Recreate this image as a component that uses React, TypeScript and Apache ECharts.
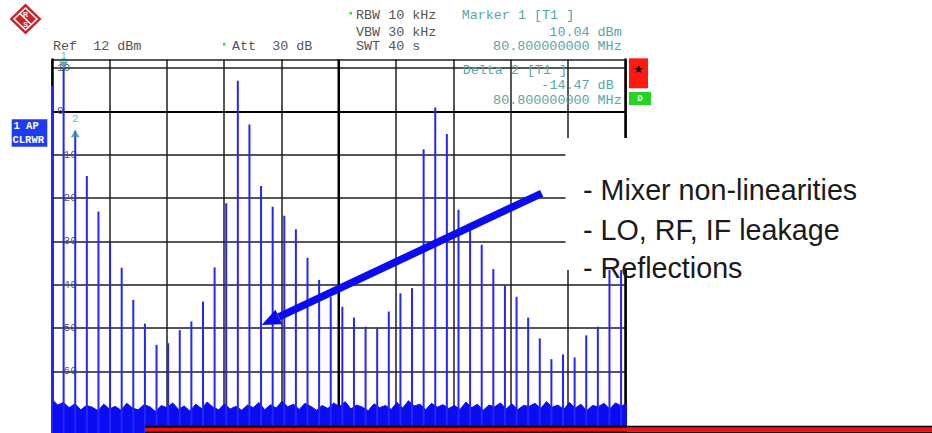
import React, { useEffect, useRef } from "react";
import * as echarts from "echarts";

// Harmonic comb: frequencies (MHz) and measured levels (dBm)
const SPIKE_FREQ_MHZ = [
  0, 80.8, 161.6, 242.4, 323.2, 404, 484.8, 565.6, 646.4, 727.2,
  808, 888.8, 969.6, 1050.4, 1131.2, 1212, 1292.8, 1373.6, 1454.4, 1535.2,
  1616, 1696.8, 1777.6, 1858.4, 1939.2, 2020, 2100.8, 2181.6, 2262.4, 2343.2,
  2424, 2504.8, 2585.6, 2666.4, 2747.2, 2828, 2908.8, 2989.6, 3070.4, 3151.2,
  3232, 3312.8, 3393.6, 3474.4, 3555.2, 3636, 3716.8, 3797.6, 3878.4, 3959.2,
];
const SPIKE_LEVEL_DBM = [
  6.0, 10.04, -4.43, -14.9, -23.1, -30.4, -36.1, -43.5, -49.0, -53.9,
  -53.5, -50.5, -48.5, -43.9, -36.0, -21.2, 7.1, -3.0, -17.2, -22.0,
  -24.1, -27.2, -33.8, -38.9, -42.9, -45.1, -47.6, -49.7, -50.1, -46.2,
  -42.0, -40.8, -8.7, 0.9, -5.2, -22.7, -27.5, -30.8, -36.4, -40.1,
  -42.8, -47.6, -52.4, -57.2, -56.1, -56.8, -51.7, -49.7, -30.0, -24.0,
];

// Noise floor trace, one sample every 40 MHz
const NOISE_STEP_MHZ = 40;
const NOISE_DBM = [
  -66.5, -67.8, -67.2, -68.4, -67.5, -68.9, -67.9, -68.3, -69.1, -67.6,
  -68.7, -68.1, -69.0, -67.4, -68.5, -68.9, -67.7, -68.2, -69.3, -67.9,
  -68.4, -67.3, -68.8, -68.0, -69.2, -67.6, -68.6, -67.1, -68.3, -68.9,
  -67.5, -68.7, -68.1, -69.0, -67.8, -68.4, -67.2, -68.9, -67.7, -68.5,
  -66.9, -68.2, -67.6, -68.8, -67.4, -68.1, -69.0, -67.9, -68.6, -67.3,
  -68.2, -67.0, -68.7, -67.8, -68.3, -69.1, -67.5, -68.4, -67.9, -68.8,
  -67.2, -68.5, -66.8, -68.0, -67.6, -68.9, -67.4, -68.3, -67.7, -68.6,
  -67.9, -68.8, -67.1, -68.4, -67.6, -69.0, -67.8, -68.2, -67.3, -68.7,
  -67.5, -68.9, -67.9, -68.1, -67.4, -68.6, -67.0, -68.3, -67.8, -68.8,
  -67.2, -68.5, -67.6, -69.1, -67.9, -68.2, -67.4, -68.7, -67.3, -68.0,
  -67.5,
];

// Markers: [freq MHz, level dBm]
const MARKER_1 = [80.8, 10.04];
const MARKER_2 = [161.6, 10.04 - 14.47];

const SPAN_MHZ = 3990;
const REF_LEVEL = 12;
const FLOOR_LEVEL = -90;

const MONO = '"Liberation Mono", "DejaVu Sans Mono", monospace';
const GRAY_TXT = "#555555";
const TEAL = "#52a8a8";
const GRID = "#1e1e1e";

function headerText(text: string, x: number, y: number, fill: string, align = "left") {
  return {
    type: "text",
    z: 120,
    style: { text, x, y, fill, fontFamily: MONO, fontSize: 13.4, align, verticalAlign: "middle" },
  };
}

export default function App() {
  const ref = useRef<HTMLDivElement>(null);

  useEffect(() => {
    if (!ref.current) return;
    const chart = echarts.init(ref.current, null, { renderer: "svg" });

    const spikes = SPIKE_FREQ_MHZ.map((f, i) => [f, SPIKE_LEVEL_DBM[i]]);
    const noise = NOISE_DBM.map((v, i) => [i * NOISE_STEP_MHZ, v]);

    // arrow geometry (annotation)
    const tip = [261.7, 325];
    const tail = [541.7, 193.3];
    const dx = tip[0] - tail[0];
    const dy = tip[1] - tail[1];
    const len = Math.hypot(dx, dy);
    const ux = dx / len, uy = dy / len;
    const headLen = 19, headHalf = 8;
    const bx = tip[0] - ux * headLen, by = tip[1] - uy * headLen;
    const nx = -uy, ny = ux;

    chart.setOption({
      animation: false,
      backgroundColor: "#ffffff",
      // the screen extends below the visible area: 4.33 px per dB from ref level down to -90 dBm
      grid: {
        left: 52, top: 59.5, width: 573.5, height: 441.7,
        containLabel: false, outerBoundsMode: "none",
      },
      xAxis: [
        {
          type: "value", min: 0, max: 10, interval: 1, position: "top",
          axisLine: { show: true, lineStyle: { color: "#000", width: 2 } },
          axisTick: { show: false }, axisLabel: { show: false },
          splitLine: { show: true, lineStyle: { color: GRID, width: 1.5 } },
        },
        { type: "value", min: 0, max: SPAN_MHZ, position: "bottom", show: false },
      ],
      yAxis: [
        {
          type: "value", min: FLOOR_LEVEL, max: REF_LEVEL, interval: 10, position: "left",
          axisLine: { show: true, lineStyle: { color: "#000", width: 2.5 } },
          axisTick: { show: false },
          axisLabel: {
            inside: true, margin: 5, color: "#5a5a5a", fontFamily: MONO, fontSize: 11,
            formatter: (v: number) => (v <= 10 && v >= -60 ? String(v) : ""),
          },
          splitLine: { show: true, lineStyle: { color: GRID, width: 1.5 } },
        },
        {
          type: "value", min: FLOOR_LEVEL, max: REF_LEVEL, position: "right",
          axisLine: { show: true, onZero: false, lineStyle: { color: "#000", width: 2.5 } },
          axisTick: { show: false }, axisLabel: { show: false }, splitLine: { show: false },
        },
      ],
      series: [
        {
          // centre graticule line
          type: "line", xAxisIndex: 1, yAxisIndex: 0, z: 1, symbol: "none", silent: true,
          data: [[SPAN_MHZ / 2, FLOOR_LEVEL], [SPAN_MHZ / 2, REF_LEVEL]],
          lineStyle: { color: "#000", width: 2.5 },
        },
        {
          type: "line", xAxisIndex: 1, yAxisIndex: 0, z: 3, symbol: "none", silent: true,
          data: noise,
          lineStyle: { color: "#0c0cf2", width: 1 },
          areaStyle: { color: "#0c0cf2", opacity: 1, origin: "start" },
        },
        {
          type: "custom", xAxisIndex: 1, yAxisIndex: 0, z: 4, silent: true,
          data: spikes,
          encode: { x: 0, y: 1 },
          renderItem: (params: any, api: any) => {
            const f = api.value(0);
            const v = api.value(1);
            const top = api.coord([f, v]);
            const bot = api.coord([f, FLOOR_LEVEL]);
            return {
              type: "line",
              shape: { x1: top[0], y1: top[1], x2: bot[0], y2: bot[1] },
              style: { stroke: "#2525ff", lineWidth: 2 },
            };
          },
        },
        {
          type: "scatter", xAxisIndex: 1, yAxisIndex: 0, z: 6, silent: true,
          data: [MARKER_1],
          symbol: "triangle", symbolRotate: 180, symbolSize: [9, 7], symbolOffset: [0, -3],
          itemStyle: { color: "#2f9a9a" },
          label: { show: true, formatter: "1", position: "top", distance: 0, color: TEAL, fontFamily: MONO, fontSize: 11 },
        },
        {
          type: "scatter", xAxisIndex: 1, yAxisIndex: 0, z: 6, silent: true,
          data: [MARKER_2],
          symbol: "triangle", symbolSize: [9, 7], symbolOffset: [0, 3],
          itemStyle: { color: "#2f9a9a" },
          label: { show: true, formatter: "2", position: "top", distance: 6, color: TEAL, fontFamily: MONO, fontSize: 11 },
        },
      ],
      graphic: [
        // logo
        { type: "polygon", z: 120, shape: { points: [[25.5, 3.5], [41.5, 19], [25.5, 34.5], [9.5, 19]] }, style: { fill: "#cc222b" } },
        { type: "polygon", z: 121, shape: { points: [[25.5, 8], [37, 19], [25.5, 30], [14, 19]] }, style: { fill: "none", stroke: "#fff", lineWidth: 1.5 } },
        { type: "line", z: 121, shape: { x1: 19.8, y1: 13.5, x2: 31.2, y2: 24.5 }, style: { stroke: "#fff", lineWidth: 1.5 } },
        { type: "text", z: 122, style: { text: "R", x: 25.5, y: 14.5, fill: "#fff", fontSize: 7, fontWeight: "bold", fontFamily: "Liberation Sans", align: "center", verticalAlign: "middle" } },
        { type: "text", z: 122, style: { text: "S", x: 25.5, y: 24, fill: "#fff", fontSize: 7, fontWeight: "bold", fontFamily: "Liberation Sans", align: "center", verticalAlign: "middle" } },

        // instrument header
        headerText("Ref  12 dBm", 53, 46, GRAY_TXT),
        { type: "rect", z: 120, shape: { x: 223, y: 43, width: 2.5, height: 2.5 }, style: { fill: "#33dd33" } },
        headerText("Att  30 dB", 232, 46, GRAY_TXT),
        { type: "rect", z: 120, shape: { x: 349.5, y: 12, width: 2.5, height: 2.5 }, style: { fill: "#33dd33" } },
        headerText("RBW 10 kHz", 356, 15.7, GRAY_TXT),
        headerText("VBW 30 kHz", 356, 32.3, GRAY_TXT),
        headerText("SWT 40 s", 356, 46.7, GRAY_TXT),
        headerText("Marker 1 [T1 ]", 461.7, 15.7, TEAL),
        headerText("10.04 dBm", 621.7, 32, TEAL, "right"),
        headerText("80.800000000 MHz", 621.7, 46.7, TEAL, "right"),
        headerText("Delta 2 [T1 ]", 462.7, 70, TEAL),
        headerText("-14.47 dB", 613.7, 85, TEAL, "right"),
        headerText("80.800000000 MHz", 621.7, 100, TEAL, "right"),

        // trace status box
        { type: "rect", z: 120, shape: { x: 11.7, y: 119.3, width: 35.6, height: 27.4 }, style: { fill: "#1f3cf5" } },
        { type: "text", z: 121, style: { text: "1 AP", x: 13.5, y: 126, fill: "#fff", fontFamily: MONO, fontSize: 10.5, fontWeight: "bold", verticalAlign: "middle" } },
        { type: "text", z: 121, style: { text: "CLRWR", x: 12.5, y: 139.5, fill: "#fff", fontFamily: MONO, fontSize: 10.5, fontWeight: "bold", verticalAlign: "middle" } },

        // status flags at the right of the screen
        { type: "rect", z: 120, shape: { x: 629, y: 58.3, width: 19, height: 30 }, style: { fill: "#ff1a0d" } },
        { type: "text", z: 121, style: { text: "★", x: 638.5, y: 69.5, fill: "#000", fontFamily: "DejaVu Sans", fontSize: 11, align: "center", verticalAlign: "middle" } },
        { type: "rect", z: 120, shape: { x: 629, y: 92, width: 22, height: 13 }, style: { fill: "#22d622" } },
        { type: "text", z: 121, style: { text: "D", x: 640, y: 98.5, fill: "#e8ffe8", fontFamily: MONO, fontSize: 9, fontWeight: "bold", align: "center", verticalAlign: "middle" } },

        // text panel
        { type: "rect", z: 130, shape: { x: 565.5, y: 138, width: 366.5, height: 132 }, style: { fill: "#ffffff" } },
        { type: "text", z: 131, style: { text: "- Mixer non-linearities", x: 583, y: 175, fill: "#1a1a1a", fontFamily: '"Liberation Sans", Arial, sans-serif', fontSize: 28.7, verticalAlign: "alphabetic" } },
        { type: "text", z: 131, style: { text: "- LO, RF, IF leakage", x: 583, y: 215, fill: "#1a1a1a", fontFamily: '"Liberation Sans", Arial, sans-serif', fontSize: 28.7, verticalAlign: "alphabetic" } },
        { type: "text", z: 131, style: { text: "- Reflections", x: 583, y: 253.3, fill: "#1a1a1a", fontFamily: '"Liberation Sans", Arial, sans-serif', fontSize: 28.7, verticalAlign: "alphabetic" } },

        // arrow
        { type: "line", z: 140, shape: { x1: tail[0], y1: tail[1], x2: bx, y2: by }, style: { stroke: "#0a0af5", lineWidth: 7.5 } },
        {
          type: "polygon", z: 140,
          shape: { points: [[tip[0], tip[1]], [bx + nx * headHalf, by + ny * headHalf], [bx - nx * headHalf, by - ny * headHalf]] },
          style: { fill: "#0a0af5" },
        },

        // bottom bar
        { type: "rect", z: 150, shape: { x: 145, y: 425.7, width: 787, height: 2 }, style: { fill: "#000" } },
        { type: "rect", z: 150, shape: { x: 145, y: 427.7, width: 787, height: 4 }, style: { fill: "#ee1111" } },
        { type: "rect", z: 150, shape: { x: 145, y: 431.7, width: 787, height: 1.3 }, style: { fill: "#000" } },
      ],
    });

    return () => chart.dispose();
  }, []);

  return (
    <div
      ref={ref}
      style={{ position: "fixed", left: 0, top: 0, width: 932, height: 433, background: "#fff" }}
    />
  );
}
